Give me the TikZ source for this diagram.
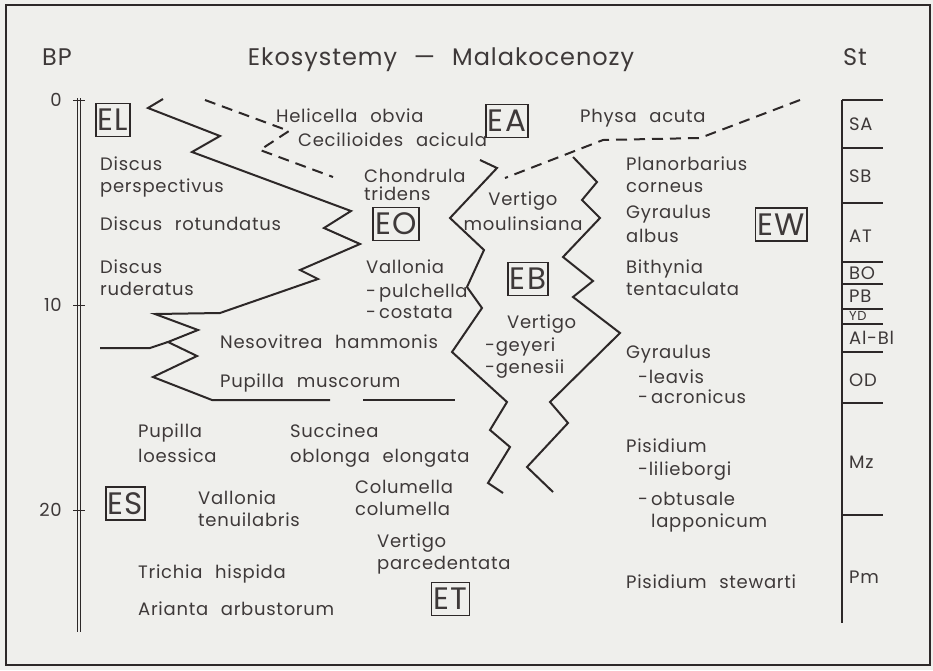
\documentclass[tikz,border=0pt]{standalone}
\usepackage{fontspec}
\setmainfont{Poppins}[LetterSpace=4,WordSpace=2.3]
\usetikzlibrary{positioning}
\definecolor{paper}{RGB}{239,239,236}
\definecolor{ink}{RGB}{45,40,40}
\definecolor{inkt}{RGB}{62,57,57}

\begin{document}
\begin{tikzpicture}[x=1pt, y=-1pt,
    txt/.style={anchor=north west, align=left, inner sep=0pt, text=inkt, font=\fontsize{18}{22}\selectfont},
    head/.style={anchor=base west, inner sep=0pt, text=inkt, font=\fontsize{24}{26}\selectfont},
    eco/.style={draw=ink, line width=1.6pt, inner xsep=2pt, inner ysep=0pt, minimum height=33pt, text=inkt, font=\fontsize{31}{31}\selectfont},
    stage/.style={anchor=west, inner sep=0pt, text=inkt, font=\fontsize{18}{20}\selectfont},
    num/.style={anchor=east, inner sep=0pt, text=inkt, font=\fontsize{18}{20}\selectfont},
    zig/.style={ink, line width=2pt, line join=miter},
    dashzig/.style={ink, line width=2pt, dash pattern=on 11pt off 7pt}
]
    % Paper and frame
    \fill[paper] (0,0) rectangle (933,670);
    \draw[ink, line width=2pt] (6,5) rectangle (930,665);

    % Headings
    \node[head] (bp) at (42,65) {BP};
    \node[head, anchor=base] (title) at (441,65) {Ekosystemy — Malakocenozy};
    \node[head] (st) at (843,65) {St};

    % Time axis
    \draw[ink, line width=1pt] (77,98) -- (77,632) (80.5,98) -- (80.5,632);
    \foreach \y/\lab in {100/0, 305/10, 510/20} {
        \draw[ink, line width=1pt] (73,\y) -- (85,\y);
        \node[num] (t\lab) at (62,\y) {\lab};
    }

    % Stratigraphy column
    \draw[ink, line width=1.3pt] (842,100) -- (842,623);
    \foreach \y in {100,148,203,262,284,309,324,352,403,515}
        \draw[ink, line width=1.3pt] (842,\y) -- (883,\y);
    \foreach \y/\lab in {124/SA, 176/SB, 236/AT, 273/BO, 296/PB, 338/Al-Bl, 380/OD, 462/Mz, 577/Pm}
        \node[stage] (s\lab) at (849,\y) {\lab};
    \node[stage, font=\fontsize{13}{14}\selectfont] (sYD) at (849,316) {YD};

    % Ecosystem boxes
    \node[eco] (EL) at (113,120) {EL};
    \node[eco] (EA) at (507,121) {EA};
    \node[eco] (EO) at (396,224) {EO};
    \node[eco] (EB) at (528,279) {EB};
    \node[eco] (EW) at (781,224.5) {EW};
    \node[eco] (ES) at (125.5,503.5) {ES};
    \node[eco] (ET) at (450.5,599) {ET};

    % Boundaries
    \draw[zig] (163,99) -- (148,108) -- (220,136) -- (192,152) -- (351,211) -- (324,228)
        -- (360,244) -- (300,270) -- (318,279) -- (220,313) -- (155,314) -- (198,330)
        -- (168,342) -- (197,356) -- (153,377) -- (212,400) -- (330,400);
    \draw[zig] (363,400) -- (455,400);
    \draw[zig] (100,348) -- (150,348) -- (168,342);
    \draw[zig] (480,160) -- (497,168) -- (450,218) -- (484,250) -- (467,287) -- (482,308)
        -- (452,352) -- (507,402) -- (490,430) -- (510,447) -- (488,483) -- (503,493);
    \draw[zig] (573,157) -- (597,182) -- (582,200) -- (600,218) -- (563,257) -- (593,281)
        -- (573,297) -- (620,333) -- (550,402) -- (568,423) -- (527,467) -- (553,492);
    \draw[dashzig] (205,100) -- (289,131) -- (260,150) -- (333,177);
    \draw[dashzig] (800,100) -- (700,138) -- (603,140) -- (505,178);

    % Species, left part
    \node[txt] (helic) at (276,109) {Helicella obvia};
    \node[txt] (cecil) at (298,133) {Cecilioides acicula};
    \node[txt] (chond) at (364,169) {Chondrula\\[-4pt]tridens};
    \node[txt] (discA) at (100,157) {Discus\\perspectivus};
    \node[txt] (discB) at (100,217) {Discus rotundatus};
    \node[txt] (discC) at (100,260) {Discus\\ruderatus};
    \node[txt] (vallA) at (366,260) {Vallonia\\[2pt]-\,pulchella\\[-1pt]-\,costata};
    \node[txt] (neso) at (220,335) {Nesovitrea hammonis};
    \node[txt] (pupM) at (220,374) {Pupilla muscorum};
    \node[txt] (pupL) at (138,424) {Pupilla\\[3pt]loessica};
    \node[txt] (succ) at (290,424) {Succinea\\[3pt]oblonga elongata};
    \node[txt] (colu) at (355,480) {Columella\\columella};
    \node[txt] (vallT) at (198,491) {Vallonia\\tenuilabris};
    \node[txt] (vertP) at (377,534) {Vertigo\\parcedentata};
    \node[txt] (trich) at (138,565) {Trichia hispida};
    \node[txt] (arian) at (138,602) {Arianta arbustorum};

    % Species, right part
    \node[txt] (physa) at (580,109) {Physa acuta};
    \node[txt, anchor=north, align=center] (vertM) at (523,192) {Vertigo\\[3pt]moulinsiana};
    \node[txt] (vertG) at (507,315) {Vertigo};
    \node[txt] (vertGs) at (485,338) {-geyeri\\-genesii};
    \node[txt] (plan) at (626,157) {Planorbarius\\corneus};
    \node[txt] (gyrA) at (626,205) {Gyraulus\\[2pt]albus};
    \node[txt] (bith) at (626,260) {Bithynia\\tentaculata};
    \node[txt] (gyrL) at (626,345) {Gyraulus};
    \node[txt] (gyrLs) at (638,370) {-leavis\\[-2pt]-\,acronicus};
    \node[txt] (pisA) at (626,439) {Pisidium};
    \node[txt] (pisAs) at (638,462) {-lilieborgi};
    \node[txt] (pisAt) at (638,492) {-\,obtusale\\\hspace*{13pt}lapponicum};
    \node[txt] (pisS) at (626,575) {Pisidium stewarti};
\end{tikzpicture}
\end{document}
